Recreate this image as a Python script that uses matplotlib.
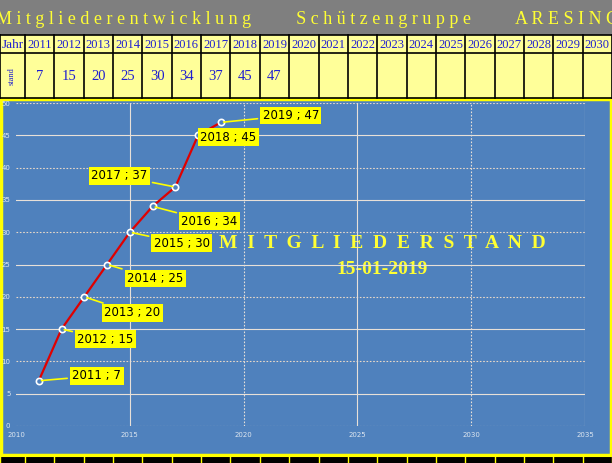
import matplotlib
matplotlib.use("Agg")
import matplotlib.pyplot as plt
from matplotlib.patches import Rectangle

years = [2011, 2012, 2013, 2014, 2015, 2016, 2017, 2018, 2019]
members = [7, 15, 20, 25, 30, 34, 37, 45, 47]
table_years = list(range(2011, 2031))
title = "M i t g l i e d e r e n t w i c k l u n g          S c h ü t z e n g r u p p e          A R E S I N G"
big1 = "M  I  T  G  L  I  E  D  E  R  S  T  A  N  D"
big2 = "15-01-2019"
offsets = [(58, 5), (44, -10), (48, -16), (48, -14), (52, -11), (57, -15), (-56, 11), (30, -2), (70, 7)]

W, H = 612, 463
fig = plt.figure(figsize=(W / 100, H / 100), dpi=100)
bg = fig.add_axes([0, 0, 1, 1])
bg.set_xlim(0, W); bg.set_ylim(H, 0); bg.axis("off")
serif = "Liberation Serif"
blue_txt = "#1f1fd0"
bg.add_patch(Rectangle((0, 0), W, 35, fc="#7f7f7f", ec="none"))
bg.text(W / 2 + 2, 19, title, color="#ffff33", fontsize=13, family=serif, ha="center", va="center")
bg.add_patch(Rectangle((0, 35), W, 63, fc="#ffff99", ec="none"))
colw = (W - 25) / len(table_years)
edges = [0, 25] + [25 + colw * (i + 1) for i in range(len(table_years))]
for x in edges:
    bg.plot([x, x], [35, 98], color="black", lw=1.2)
for y in (35, 53, 98):
    bg.plot([0, W], [y, y], color="black", lw=1.2)
bg.text(12.5, 45, "Jahr", color=blue_txt, fontsize=9.5, family=serif, ha="center", va="center")
bg.text(12, 76, "stand", color=blue_txt, fontsize=6, family=serif, ha="center", va="center", rotation=90)
for i, yr in enumerate(table_years):
    cx = 25 + colw * (i + 0.5)
    bg.text(cx, 45, str(yr), color=blue_txt, fontsize=9, family=serif, ha="center", va="center")
for yr, m in zip(years, members):
    i = table_years.index(yr)
    cx = 25 + colw * (i + 0.5)
    bg.text(cx, 77, str(m), color=blue_txt, fontsize=10.5, family=serif, ha="center", va="center")
bg.add_patch(Rectangle((1, 99), W - 2, 356, fc="#4f81bd", ec="#ffff00", lw=2.5))
bg.add_patch(Rectangle((0, 456), W, 7, fc="black", ec="none"))
bg.plot([0, W], [456, 456], color="#ffff00", lw=1.5)
for x in edges:
    bg.plot([x, x], [456, 463], color="#ffff00", lw=1)

ax = fig.add_axes([16 / W, 1 - 426 / H, (585 - 16) / W, (426 - 103) / H])
ax.set_facecolor("none")
ax.set_xlim(2010, 2035); ax.set_ylim(0, 50)
for s in ax.spines.values():
    s.set_visible(False)
ax.set_xticks(range(2010, 2036, 5)); ax.set_yticks(range(0, 51, 5))
ax.tick_params(colors="#dde6f0", labelsize=5, length=0, pad=4)
for v in range(5, 51, 10):
    ax.axhline(v, color="#e8e0d8", lw=0.8)
for v in range(10, 51, 10):
    ax.axhline(v, color="#e8d8c8", lw=0.8, ls=(0, (1.5, 1.5)))
ax.axhline(0, color="#e8d8c8", lw=0.8, ls=(0, (1.5, 1.5)))
for v, ls in [(2015, "-"), (2020, (0, (1.5, 1.5))), (2025, "-"), (2030, (0, (1.5, 1.5))), (2035, "-")]:
    ax.axvline(v, color="#e8e0d8", lw=0.8, ls=ls)
ax.plot(years, members, color="#e00000", lw=1.6, zorder=3)
ax.plot(years, members, "o", ms=4.5, mfc="#4f81bd", mec="white", mew=1.2, zorder=4)
for yr, m, off in zip(years, members, offsets):
    ax.annotate(f"{yr} ; {m}", (yr, m), xytext=off, textcoords="offset pixels",
                ha="center", va="center", fontsize=8.5, color="black", family="DejaVu Sans",
                bbox=dict(boxstyle="square,pad=0.2", fc="#ffff00", ec="none"),
                arrowprops=dict(arrowstyle="-", color="#ffff00", lw=1.2), zorder=5)
bg.text(382, 244, big1, color="#ffff33", fontsize=14, weight="bold", family=serif, ha="center", va="center", zorder=10)
bg.text(382, 270, big2, color="#ffff33", fontsize=14, weight="bold", family=serif, ha="center", va="center", zorder=10)
fig.savefig("out.png", dpi=100)
